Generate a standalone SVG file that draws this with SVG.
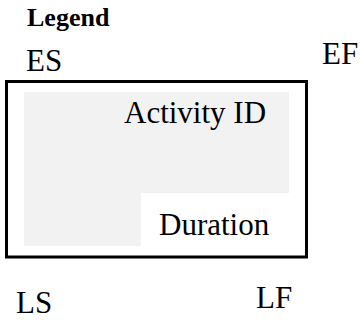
<svg xmlns="http://www.w3.org/2000/svg" width="360" height="320" viewBox="0 0 360 320">
<style>
.t{font-family:"Liberation Serif","Times New Roman",serif;font-size:31px;fill:#000}
.b{font-family:"Liberation Serif","Times New Roman",serif;font-size:26px;font-weight:bold;fill:#000}
</style>
<rect width="360" height="320" fill="#fff"/>
<g id="legend-title"><text class="b" x="27" y="26">Legend</text></g>
<g id="activity-node">
<rect x="6.5" y="81.5" width="300" height="175.5" fill="#fff" stroke="#000" stroke-width="3"/>
<path d="M24 92H289V193H141V246H24Z" fill="#f2f2f2"/>
<text class="t" x="124" y="123">Activity ID</text>
<text class="t" x="159" y="235">Duration</text>
</g>
<g id="labels">
<text class="t" x="26" y="71">ES</text>
<text class="t" x="322" y="64">EF</text>
<text class="t" x="16" y="313">LS</text>
<text class="t" x="256" y="308">LF</text>
</g>
<g id="connectors"></g>
</svg>
